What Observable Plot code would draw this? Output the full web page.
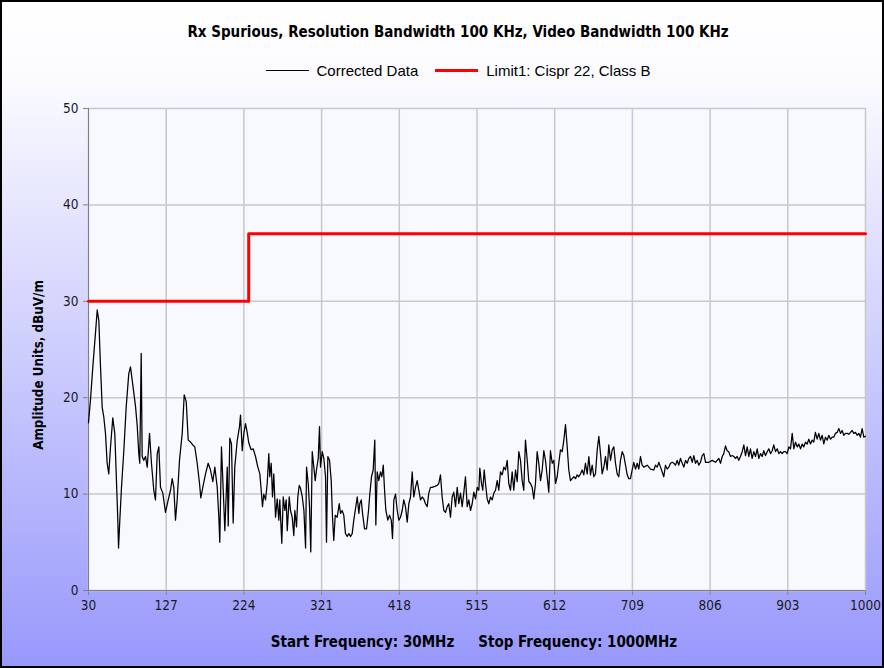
<!DOCTYPE html>
<html>
<head>
<meta charset="utf-8">
<script src="https://cdn.jsdelivr.net/npm/d3@7"></script>
<script src="https://cdn.jsdelivr.net/npm/@observablehq/plot@0.6"></script>
<style>
  html, body { margin: 0; padding: 0; background: #ffffff; }
  #chart {
    position: relative; width: 884px; height: 668px; overflow: hidden;
    background: linear-gradient(to bottom, #ffffff 0px, #fbfbff 80px, #9898fc 668px);
  }
  #frame { position: absolute; left: 0; top: 0; width: 884px; height: 668px; box-sizing: border-box;
    border: 2px solid #000; pointer-events: none; }
  .cond { font-family: "DejaVu Sans Condensed", "DejaVu Sans", sans-serif; font-stretch: condensed; }
  #title { position: absolute; left: 58px; width: 800px; top: 23px; text-align: center;
    font-weight: bold; font-size: 15px; color: #000; white-space: nowrap; }
  #legend { position: absolute; left: 58px; width: 800px; top: 62px; display: flex; justify-content: center;
    align-items: center; font-family: "Liberation Sans", Arial, sans-serif; font-size: 15px; color: #000; white-space: nowrap; }
  #legend .sw { display: inline-block; width: 43px; margin-right: 8px; }
  #legend .item { display: flex; align-items: center; }
  #ylabel { position: absolute; left: 38px; top: 365px; transform: translate(-50%, -50%) rotate(-90deg);
    font-weight: bold; font-size: 13.3px; white-space: nowrap; color: #000; }
  #footer { position: absolute; left: 74px; width: 800px; top: 633px; text-align: center;
    font-weight: bold; font-size: 15px; color: #000; white-space: nowrap; }
  #plot { position: absolute; left: 0; top: 0; }
  #plot svg text { fill: #1a1a1a; }
</style>
</head>
<body>
<div id="chart">
  <div id="plot"></div>
  <div id="title" class="cond"></div>
  <div id="legend"></div>
  <div id="ylabel" class="cond"></div>
  <div id="footer" class="cond"></div>
  <div id="frame"></div>
</div>
<script>
// ---- Text ----
const titleText = "Rx Spurious, Resolution Bandwidth 100 KHz, Video Bandwidth 100 KHz";
const yLabelText = "Amplitude Units, dBuV/m";
const footerTexts = ["Start Frequency: 30MHz", "Stop Frequency: 1000MHz"];
const seriesNames = ["Corrected Data", "Limit1: Cispr 22, Class B"];
const seriesColors = ["#000000", "#ff0000"];

// ---- Ticks ----
const xTicks = [30, 127, 224, 321, 418, 515, 612, 709, 806, 903, 1000];
const yTicks = [0, 10, 20, 30, 40, 50];

// ---- Limit line (frequency MHz, dBuV/m) ----
const limitFreq = [30, 230, 230, 1000];
const limitLevel = [30, 30, 37, 37];

// ---- Corrected data (frequency MHz, dBuV/m) ----
const correctedData = [
[30,17.4],[32.5,19.8],[35.4,23.2],[38.7,26.7],[40.9,29.1],[42.9,28.0],[45.0,23.2],[47.1,19.0],[49.1,18.0],[51.2,16.3],[53.3,13.2],[55.3,12.1],[57.5,14.9],[60.3,17.9],[62.8,16.3],[64.6,12.1],[66.6,7.3],[67.5,4.4],[69.1,7.3],[71.2,10.7],[74.1,14.5],[77.1,19.1],[80.3,22.5],[82.4,23.2],[84.6,21.8],[88.7,19.1],[90.8,17.1],[92.8,14.2],[94.0,13.2],[95.8,24.6],[97.0,13.9],[99.0,13.5],[101.2,13.9],[103.3,12.8],[106.2,16.3],[108.6,13.2],[111.5,10.4],[113.6,9.4],[115.8,14.2],[117.8,14.9],[119.9,10.7],[122.8,10.1],[126.1,8.1],[129.5,9.4],[132.4,10.4],[134.5,11.6],[136.5,10.7],[138.6,7.3],[140.7,9.4],[143.6,13.5],[147.0,16.3],[149.5,20.3],[152.0,19.6],[154.5,15.6],[157.3,15.4],[160.2,15.1],[162.7,14.9],[165.7,13.2],[168.6,11.1],[170.2,9.6],[172.7,10.7],[176.1,12.1],[179.4,13.2],[182.3,12.5],[185.2,11.3],[187.7,12.8],[190.7,10.7],[192.7,7.6],[193.9,5.0],[196.0,14.9],[198.2,10.4],[200.2,6.2],[203.2,12.8],[204.4,6.7],[206.4,15.8],[208.5,15.2],[210.6,7.0],[212.6,12.8],[215.6,15.5],[218.5,17.0],
[219.8,18.2],[221.9,14.5],[223.9,16.3],[226.0,17.3],[228.1,16.4],[230.1,15.3],[233.1,14.6],[235.6,14.7],[238.5,13.9],[241.4,12.8],[243.9,12.1],[245.6,10.4],[247.2,8.7],[248.8,10.0],[251.0,9.4],[253.1,11.1],[255.1,14.2],[256.3,11.8],[258.1,13.2],[259.7,9.7],[261.3,12.1],[263.5,7.6],[265.6,9.5],[267.6,7.3],[268.8,9.4],[271.3,4.9],[273.1,9.7],[275.1,8.3],[276.8,9.4],[278.1,6.2],[280.6,9.7],[282.2,8.3],[284.3,7.6],[286.3,5.7],[287.6,8.3],[289.7,6.6],[291.3,9.7],[293.1,10.9],[294.7,10.6],[296.9,9.7],[298.9,8.3],[301.0,4.4],[302.2,12.8],[304.3,11.1],[305.9,8.7],[307.5,4.0],[309.3,14.4],[311.3,12.8],[313.0,11.4],[314.6,12.5],[316.8,13.7],[318.4,17.0],[319.6,12.8],[321.8,14.4],[323.8,13.7],[325.9,11.8],[327.1,5.0],[328.8,13.9],[330.9,13.5],[333.0,11.4],[334.6,7.6],[336.2,5.2],[338.0,7.8],[340.5,7.6],[343.0,9.0],[344.6,8.0],[346.7,8.3],[348.7,7.8],[350.8,5.9],[353.0,5.6],[355.0,5.9],[357.1,5.6],[359.2,5.9],[361.2,7.3],[363.7,8.7],[365.5,9.7],[367.5,8.0],[368.7,9.0],[370.5,9.4],[372.1,8.0],[374.6,6.4],[377.1,6.4],[379.6,8.3],[381.2,10.0],[383.3,11.8],[385.4,12.5],[387.4,15.6],[388.7,6.8],[390.4,12.3],[392.4,11.4],[394.5,12.3],[396.2,11.8],[398.0,13.0],[399.6,10.4],[401.2,8.3],[403.7,7.3],[405.8,7.8],[408.0,7.3],[409.5,5.4],[411.2,9.4],[413.3,10.0],
[415.4,8.3],[417.4,7.3],[419.5,7.6],[421.6,8.3],[423.6,9.4],[425.7,8.7],[427.9,7.1],[429.9,9.0],[432.0,9.7],[434.1,12.3],[436.1,9.7],[438.2,10.7],[440.3,11.4],[442.4,10.4],[444.5,9.4],[446.6,9.7],[448.6,9.5],[450.7,9.0],[452.8,8.7],[454.8,10.1],[456.9,10.7],[459.0,10.7],[462.3,10.8],[465.3,10.9],[467.3,11.1],[469.4,12.0],[471.5,9.7],[473.6,8.3],[475.7,8.1],[477.8,8.7],[479.8,9.0],[481.9,7.6],[484.0,9.7],[486.0,10.2],[488.2,8.7],[490.3,10.7],[492.3,9.0],[494.4,10.1],[496.5,8.7],[498.5,10.1],[500.6,11.8],[502.8,8.7],[504.8,9.4],[506.9,8.3],[509.0,9.0],[511.0,10.2],[513.1,9.5],[515.3,10.7],[517.3,10.4],[518.5,12.7],[520.6,11.1],[522.2,10.4],[524.0,12.5],[525.6,11.1],[527.7,9.5],[529.7,9.0],[531.9,9.7],[534.0,9.4],[536.0,10.1],[538.1,10.4],[540.2,11.4],[542.2,10.4],[544.3,12.3],[546.5,12.0],[548.5,12.8],[550.6,12.5],[552.7,13.5],[554.7,11.1],[556.8,10.4],[558.9,12.3],[560.9,10.4],[563.1,12.5],[565.2,11.3],[567.2,14.4],[569.3,13.5],[571.4,11.4],[573.4,10.4],[575.5,15.6],[577.7,13.5],[579.7,11.3],[581.8,11.1],[583.9,10.7],[585.9,9.5],[588.0,11.1],[590.1,14.4],[592.1,13.2],[594.3,11.4],[596.4,12.5],[598.4,14.5],[600.5,13.5],[602.6,11.8],[604.6,10.2],[606.7,14.5],[608.9,13.2],[610.9,13.5],
[613.0,11.1],[615.1,11.8],[617.1,13.2],[619.2,14.6],[621.4,14.4],[623.4,15.6],[625.5,17.2],[627.6,14.9],[629.6,12.5],[631.7,11.4],[633.8,11.6],[635.9,11.8],[638.0,11.6],[640.1,12.0],[642.1,11.8],[644.2,12.1],[646.3,12.5],[648.3,12.0],[650.4,13.2],[652.6,12.1],[654.6,13.9],[656.7,12.0],[658.8,13.0],[660.8,11.8],[662.9,12.1],[665.1,14.6],[667.1,16.0],[669.2,14.2],[671.3,12.1],[673.3,12.8],[675.4,13.9],[677.5,12.5],[679.5,15.1],[681.7,13.5],[683.8,14.6],[685.8,14.9],[687.9,13.2],[690.0,12.1],[692.0,11.8],[694.1,13.5],[696.3,14.4],[698.3,14.0],[700.4,13.0],[702.5,12.0],[704.5,11.6],[706.6,11.6],[708.7,12.5],[710.7,13.3],[712.9,12.6],[715.0,13.2],[717.0,12.6],[719.1,13.9],[721.2,13.0],[723.2,12.8],[727.5,13.0],[731.6,12.6],[735.7,12.5],[737.8,13.0],[740.0,12.8],[742.0,13.3],[744.1,12.8],[746.2,12.3],[748.2,11.8],[750.3,13.0],[752.4,12.6],[754.5,12.8],[756.6,13.2],[758.7,13.3],[760.7,13.2],[762.8,13.0],[764.9,13.5],[766.9,13.0],[769.0,13.7],[771.2,13.2],[773.2,12.8],[775.3,13.5],[777.4,13.2],[779.4,13.7],[781.6,13.9],[783.7,13.3],[785.7,14.0],[787.8,13.2],[789.9,13.5],[791.9,13.0],[794.0,13.3],[796.1,14.0],[798.2,14.2],[800.3,13.3],
[804.4,13.3],[808.6,13.5],[812.7,13.3],[816.9,13.7],[819.0,13.2],[821.1,13.9],[823.1,14.2],[825.2,15.0],[827.3,14.5],[829.3,14.4],[831.5,13.9],[833.6,14.0],[835.6,13.9],[837.7,13.7],[839.8,13.9],[841.8,13.5],[843.9,13.9],[846.1,14.4],[848.1,15.1],[850.2,14.0],[852.3,14.9],[854.3,13.9],[856.4,14.7],[858.5,13.7],[860.6,14.4],[862.7,13.9],[864.8,14.7],[866.8,13.7],[868.9,14.2],[871.0,13.9],[873.0,14.5],[875.1,14.0],[877.3,14.4],[879.3,14.7],[881.4,14.2],[883.5,14.5],[885.5,15.1],[887.6,14.4],[889.8,14.7],[891.8,14.2],[893.9,14.4],[896.0,14.2],[898.0,14.4],[900.1,14.4],[902.2,14.2],[904.3,14.9],[906.4,14.7],[908.5,16.3],[910.5,14.7],[912.6,15.4],[914.7,14.9],[916.7,15.2],[918.9,14.7],[921.0,15.2],[923.0,14.9],[925.1,15.4],[927.2,15.2],[929.2,15.7],[931.3,15.2],[933.4,15.6],[935.4,15.4],[937.5,16.4],[939.7,15.7],[941.7,16.3],[943.8,15.6],[945.9,16.1],[947.9,15.2],[950.0,15.9],[952.2,15.6],[954.2,16.1],[956.3,15.7],[958.4,15.9],[960.4,15.9],[962.5,16.3],[964.6,16.4],[966.7,16.8],[968.8,16.3],[970.9,16.6],[972.9,16.1],[975.0,16.3],[977.1,16.3],[979.1,16.2],[981.2,16.4],[983.4,16.6],[985.4,16.3],[987.5,16.4],[989.6,16.1],[991.6,16.3],[993.7,15.9],[995.8,16.8],[997.9,15.9],[1000,16.0]
];

const limitData = limitFreq.map((f, i) => ({freq: f, level: limitLevel[i]}));
const corrected = correctedData.map(([f, v]) => ({freq: f, level: v}));

const chart = Plot.plot({
  width: 884,
  height: 668,
  marginTop: 108,
  marginBottom: 78,
  marginLeft: 88,
  marginRight: 19,
  style: {background: "transparent", fontFamily: "'DejaVu Sans Condensed', 'DejaVu Sans', sans-serif", fontSize: "13.5px", color: "#808080", overflow: "visible"},
  x: {domain: [30, 1000], ticks: xTicks, tickFormat: d => String(d), label: null, tickSize: 5, tickPadding: 5},
  y: {domain: [0, 50], ticks: yTicks, tickFormat: d => String(d), label: null, tickSize: 5, tickPadding: 5},
  marks: [
    Plot.frame({fill: "#f8f8ff", stroke: null}),
    Plot.ruleX(xTicks, {stroke: "#c8c8c8", strokeWidth: 1.5}),
    Plot.ruleY(yTicks, {stroke: "#c8c8c8", strokeWidth: 1.5}),
    Plot.ruleX([xTicks[0]], {stroke: "#808080", strokeWidth: 1}),
    Plot.ruleY([yTicks[0]], {stroke: "#808080", strokeWidth: 1}),
    Plot.line(limitData, {x: "freq", y: "level", stroke: seriesColors[1], strokeWidth: 3, curve: "linear"}),
    Plot.line(corrected, {x: "freq", y: "level", stroke: seriesColors[0], strokeWidth: 1.25, curve: "linear"})
  ]
});
document.getElementById("plot").appendChild(chart);

document.getElementById("title").textContent = titleText;
document.getElementById("ylabel").textContent = yLabelText;
const footer = document.getElementById("footer");
footerTexts.forEach((t, i) => {
  const s = document.createElement("span");
  s.textContent = t;
  if (i > 0) s.style.marginLeft = "24px";
  footer.appendChild(s);
});
const legend = document.getElementById("legend");
seriesNames.forEach((name, i) => {
  const item = document.createElement("span");
  item.className = "item";
  if (i > 0) item.style.marginLeft = "17px";
  const sw = document.createElement("span");
  sw.className = "sw";
  sw.style.borderTop = (i === 0 ? 1 : 3) + "px solid " + seriesColors[i];
  const label = document.createElement("span");
  label.textContent = name;
  item.appendChild(sw);
  item.appendChild(label);
  legend.appendChild(item);
});
</script>
</body>
</html>
